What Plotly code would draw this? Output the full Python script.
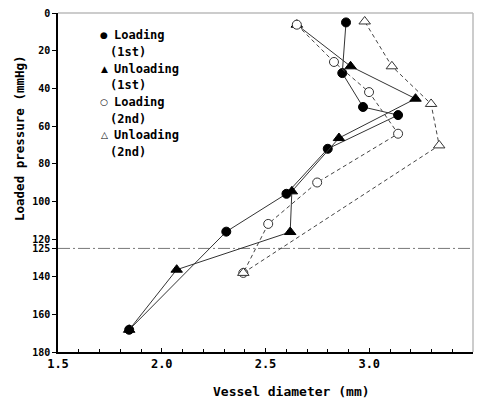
import plotly.graph_objects as go

# Data
load1_x = [2.888, 2.870, 2.970, 3.139, 2.800, 2.601, 2.311, 1.843]
load1_y = [5.0, 31.9, 49.9, 54.2, 72.1, 96.0, 116.1, 168.2]

unload1_x = [1.843, 2.072, 2.619, 2.627, 2.854, 3.223, 2.910, 2.651]
unload1_y = [168.2, 136.3, 116.3, 94.7, 66.4, 45.5, 28.3, 6.2]

load2_x = [2.651, 2.830, 2.999, 3.139, 2.749, 2.513, 2.393]
load2_y = [6.2, 26.0, 42.0, 64.1, 90.0, 112.0, 138.0]

unload2_x = [2.393, 3.337, 3.298, 3.109, 2.978]
unload2_y = [138.0, 70.3, 48.3, 28.3, 4.5]

ref_line_y = 125
y_ticks = [0, 20, 40, 60, 80, 100, 120, 125, 140, 160, 180]
x_ticks = [1.5, 2.0, 2.5, 3.0, 3.5]
x_tick_labels = ["1.5", "2.0", "2.5", "3.0", "3.5"]

legend_names = [("Loading", "(1st)"), ("Unloading", "(1st)"), ("Loading", "(2nd)"), ("Unloading", "(2nd)")]
legend_symbols = ["●", "▲", "○", "△"]

FONT = "DejaVu Sans Mono"

# geometry helpers (plot area in pixels)
L, R, T, B = 58, 473, 13, 352
def px_x(p):
    return (p - L) / (R - L)
def px_y(p):
    return 1 - (p - T) / (B - T)

fig = go.Figure()

# reference dash-dot line
fig.add_trace(go.Scatter(x=[1.5, 3.5], y=[ref_line_y, ref_line_y], mode="lines",
                         line=dict(color="#777777", width=1, dash="12px,3px,2px,3px"),
                         showlegend=False, hoverinfo="skip"))

solid = dict(color="#333333", width=1)
dashed = dict(color="#444444", width=1, dash="4px,3px")

series = [
    (load1_x, load1_y, solid, dict(symbol="circle", size=9, color="black", line=dict(color="black", width=1))),
    (unload1_x, unload1_y, solid, dict(symbol="triangle-up", size=10, color="black", line=dict(color="black", width=1))),
    (load2_x, load2_y, dashed, dict(symbol="circle", size=9, color="white", line=dict(color="#333333", width=1))),
    (unload2_x, unload2_y, dashed, dict(symbol="triangle-up", size=10, color="white", line=dict(color="#333333", width=1))),
]

for (xs, ys, ln, mk), nm in zip(series, legend_names):
    fig.add_trace(go.Scatter(x=xs, y=ys, mode="lines+markers", line=ln, marker=mk,
                             showlegend=False, name=" ".join(nm)))

# legend drawn as text
annotations = []
first_line = [35, 68.5, 102, 135.5]
for i, ((l1, l2), sym) in enumerate(zip(legend_names, legend_symbols)):
    yy = first_line[i]
    annotations.append(dict(xref="paper", yref="paper", x=px_x(104), y=px_y(yy),
                            text=sym, showarrow=False, xanchor="center", yanchor="middle",
                            font=dict(family="DejaVu Sans", size=9, color="black")))
    annotations.append(dict(xref="paper", yref="paper", x=px_x(112), y=px_y(yy),
                            text=l1, showarrow=False, xanchor="left", yanchor="middle",
                            font=dict(family=FONT, size=12, color="black", weight="bold")))
    annotations.append(dict(xref="paper", yref="paper", x=px_x(108), y=px_y(yy + 16.5),
                            text=l2, showarrow=False, xanchor="left", yanchor="middle",
                            font=dict(family=FONT, size=12, color="black", weight="bold")))

# axis titles
annotations.append(dict(xref="paper", yref="paper", x=px_x(291), y=px_y(391),
                        text="Vessel diameter (mm)", showarrow=False, xanchor="center", yanchor="middle",
                        font=dict(family=FONT, size=13, color="black", weight="bold")))
annotations.append(dict(xref="paper", yref="paper", x=px_x(19), y=px_y(138),
                        text="Loaded pressure (mmHg)", showarrow=False, xanchor="center", yanchor="middle",
                        textangle=-90,
                        font=dict(family=FONT, size=12.5, color="black", weight="bold")))

fig.update_layout(
    width=479, height=401,
    margin=dict(l=L, r=479 - R, t=T, b=401 - B),
    paper_bgcolor="white", plot_bgcolor="white",
    font=dict(family=FONT, color="black", size=11),
    showlegend=False,
    annotations=annotations,
    xaxis=dict(range=[1.5, 3.5], tickvals=x_ticks, ticktext=x_tick_labels,
               ticks="inside", ticklen=4, tickcolor="black",
               minor=dict(dtick=0.1, ticks="inside", ticklen=3, tickcolor="black"),
               showgrid=False, zeroline=False, showline=True, linecolor="black", linewidth=1.5,
               tickfont=dict(family=FONT, size=12, weight="bold")),
    yaxis=dict(range=[180, 0], tickvals=y_ticks, ticktext=[str(v) for v in y_ticks],
               ticks="outside", ticklen=4, tickcolor="black",
               showgrid=False, zeroline=False, showline=True, linecolor="black", linewidth=1.5,
               tickfont=dict(family=FONT, size=10, weight="bold")),
)

# light gray top and right borders
fig.add_shape(type="line", xref="paper", yref="paper", x0=0, x1=1, y0=1, y1=1,
              line=dict(color="#bbbbbb", width=1.5))
fig.add_shape(type="line", xref="paper", yref="paper", x0=1, x1=1, y0=0, y1=1,
              line=dict(color="#bbbbbb", width=1.5))

fig.write_html("out.html", config={"displayModeBar": False},
               post_script="document.body.style.margin='0';document.body.style.overflow='hidden';")
